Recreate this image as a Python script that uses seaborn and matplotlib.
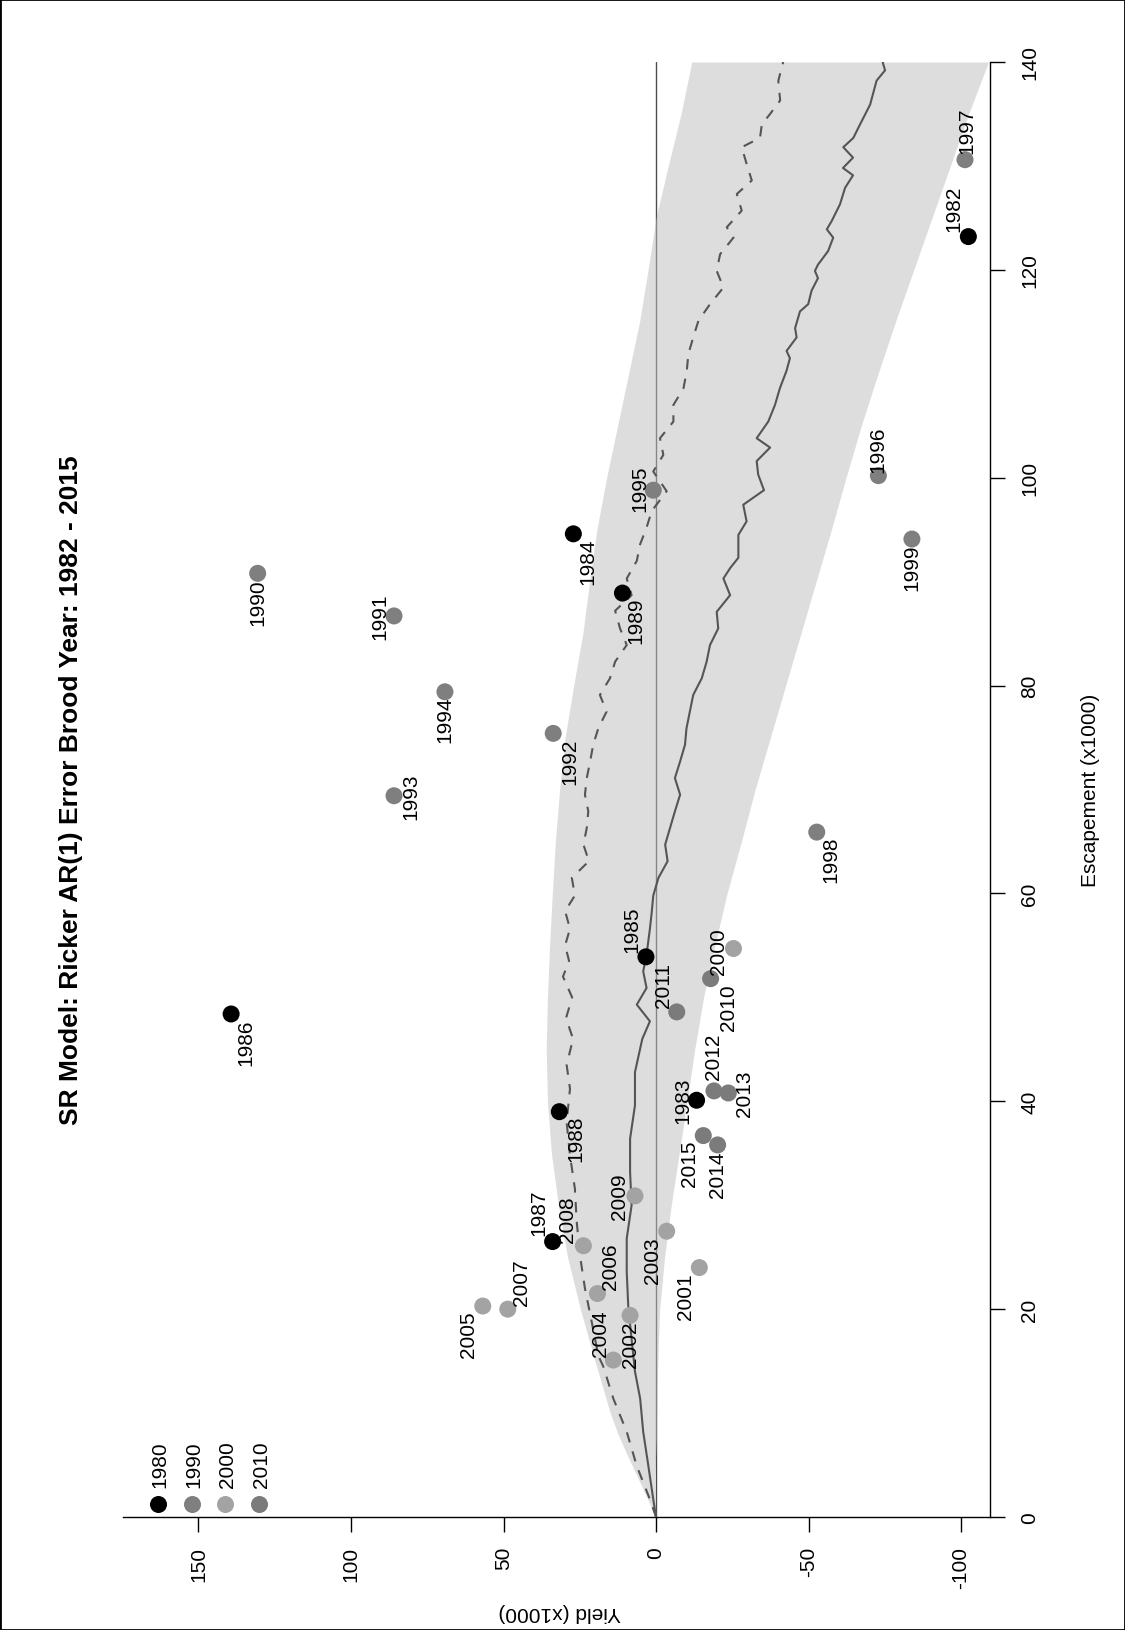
import numpy as np
import pandas as pd
import matplotlib
matplotlib.use("Agg")
import matplotlib.pyplot as plt
from matplotlib.patches import Rectangle
import seaborn as sns

# Brood year data (x1000 fish)
years = [1982, 1983, 1984, 1985, 1986, 1987, 1988, 1989,
         1990, 1991, 1992, 1993, 1994, 1995, 1996, 1997, 1998, 1999,
         2000, 2001, 2002, 2003, 2004, 2005, 2006, 2007, 2008, 2009,
         2010, 2011, 2012, 2013, 2014, 2015]
escapement = [123.2, 40.1, 94.6, 53.9, 48.4, 26.5, 39.0, 88.9,
              90.8, 86.7, 75.4, 69.4, 79.4, 98.8, 100.2, 130.6, 65.9, 94.1,
              54.7, 24.0, 19.4, 27.5, 15.1, 20.3, 21.5, 20.0, 26.1, 30.9,
              51.8, 48.6, 41.0, 40.8, 35.8, 36.7]
yield_ = [-102.4, -13.3, 27.1, 3.3, 139.3, 33.9, 31.7, 11.0,
          130.6, 85.9, 33.7, 85.9, 69.2, 0.9, -72.9, -101.3, -52.7, -83.9,
          -25.4, -14.2, 8.5, -3.5, 14.0, 56.8, 19.2, 48.6, 23.8, 6.9,
          -17.9, -6.8, -19.0, -23.7, -20.2, -15.5]

decades = ["1980", "1990", "2000", "2010"]
decade_colors = ["#000000", "#7f7f7f", "#a3a3a3", "#7b7b7b"]

# Median yield curve (solid)
solid_esc = [0, 1.7, 4.9, 8.2, 11.4, 14.0, 17.1, 20.3, 23.6, 26.8, 30.0, 33.2, 36.4, 39.6, 42.8,
             46.0, 47.7, 49.3, 50.9, 52.5, 54.1, 56.6, 58.2, 59.8, 61.5, 63.1, 64.7, 66.3, 67.9,
             69.5, 71.1, 72.7, 74.3, 75.9, 77.5, 79.1, 80.7, 82.3, 83.9, 85.5, 87.1, 88.7, 90.3,
             91.3, 92.3, 94.5, 95.8, 97.4, 98.8, 100.3, 101.6, 102.9, 103.8, 105.4, 107.0, 108.6,
             110.3, 111.5, 112.2, 113.5, 114.4, 116.0, 116.7, 118.0, 119.2, 119.9, 120.5, 121.8,
             123.1, 123.9, 124.7, 126.3, 127.9, 129.1, 129.8, 130.8, 131.8, 132.7, 134.0, 135.9,
             138.2, 139.2, 140.0]
solid_yield = [0, 0.9, 2.5, 4.2, 5.2, 6.9, 8.0, 9.1, 9.6, 9.6, 8.0, 8.5, 8.5, 6.9, 6.9,
               4.5, 2.0, 6.3, 3.1, 4.2, 3.1, 2.0, 1.4, 0.9, -0.8, -3.8, -3.0, -4.6, -6.2,
               -7.9, -6.2, -7.9, -9.5, -10.0, -11.1, -12.2, -15.0, -16.6, -17.7, -20.4, -19.9, -24.3, -22.1,
               -24.3, -27.0, -27.0, -29.7, -28.6, -35.4, -33.5, -33.0, -37.4, -33.0, -36.8, -39.0, -40.6,
               -42.8, -43.9, -42.8, -46.1, -45.6, -47.2, -49.9, -51.0, -53.1, -52.1, -53.1, -56.4,
               -58.1, -56.0, -57.6, -60.3, -62.0, -64.6, -61.3, -64.6, -61.4, -64.7, -66.9, -70.2,
               -72.3, -75.1, -74.3]

# Mean yield curve (dashed)
dashed_esc = [0, 1.7, 4.9, 8.2, 11.4, 14.5, 15.5, 18.8, 22.0, 25.1, 28.4, 31.6, 34.8, 38.0, 41.2,
              43.5, 46.0, 48.0, 50.0, 52.0, 53.5, 55.0, 56.6, 58.3, 59.8, 61.5, 63.1, 64.7, 66.3,
              67.9, 69.5, 71.1, 72.7, 74.3, 75.9, 77.5, 79.1, 80.7, 82.3, 83.9, 85.5, 87.2, 88.7,
              90.3, 92.0, 93.6, 95.2, 96.8, 98.7, 100.6, 102.2, 103.8, 105.4, 107.0, 108.6, 110.3,
              111.9, 113.5, 115.1, 116.7, 118.3, 119.9, 121.5, 123.1, 124.1, 125.7, 127.3, 128.6,
              130.2, 131.8, 132.7, 134.0, 135.0, 136.3, 138.2, 140.0]
dashed_yield = [0, 2.0, 6.3, 9.6, 14.0, 17.3, 18.9, 21.1, 23.3, 24.9, 26.0, 26.6, 28.2, 29.3, 28.2,
                29.3, 27.2, 29.5, 27.5, 30.5, 28.5, 29.8, 28.2, 29.8, 26.6, 27.6, 22.0, 23.8, 22.7,
                22.2, 23.3, 22.7, 21.6, 20.6, 18.9, 16.2, 18.4, 15.1, 13.4, 9.6, 11.8, 13.4, 8.0,
                9.6, 6.3, 5.2, 3.1, 1.4, -3.5, 0.9, -2.4, -1.3, -5.7, -5.7, -9.0, -10.1,
                -10.6, -12.2, -13.9, -17.7, -22.1, -19.9, -21.0, -25.4, -23.2, -28.1, -26.5, -31.4,
                -29.7, -28.1, -34.1, -34.7, -37.4, -40.7, -40.1, -41.7]

# Credible band
band_esc = [0, 2, 4, 6, 8, 10, 12, 15, 20, 25, 30, 35, 40, 45, 50, 55, 60, 65, 70, 75,
            80, 85, 90, 95, 100, 105, 110, 115, 120, 125, 130, 135, 140]
band_high = [0, 3.2, 6.3, 9.5, 12.5, 15.0, 17.0, 20.0, 24.8, 29.0, 32.0, 34.3, 35.6, 36.0, 35.6,
             34.9, 34.0, 33.0, 31.6, 29.8, 27.0, 24.0, 21.8, 19.4, 16.2, 12.6, 9.0, 5.4, 2.6,
             0.0, -4.0, -8.2, -11.7]
band_low = [0, 0.4, 0.5, 0.1, -0.2, -0.3, -0.4, -0.6, -1.2, -2.8, -5.0, -7.6, -10.2, -12.7, -15.6,
            -19.3, -23.3, -28.0, -32.5, -37.5, -42.5, -47.5, -52.5, -57.5, -62.3, -67.3, -72.8,
            -78.5, -84.5, -90.5, -96.5, -102.5, -109.0]

yield_ticks = [150, 100, 50, 0, -50, -100]
esc_ticks = [0, 20, 40, 60, 80, 100, 120, 140]

# label offsets (pixels, screen x right / y down) so the labels sit where they do in the chart
label_dx = [-14, -14, 15, -14, 15, -14, 17, 13,
            0, -14, 17, 17, 0, -13, 0, 2, 14, 0,
            -15, -14, 0, -14, -13, -14, 13, 14, -16, -15,
            18, -13, 0, 16, 0, -14]
label_dy = [-29, 0, 27, -28, 28, -30, 26, 27,
            28, 0, 27, 0, 27, -2, -27, -30, 27, 28,
            2, 28, 28, 28, -27, 28, -28, -27, -27, 0,
            28, -27, -35, 0, 29, 27]

df = pd.DataFrame({"year": years, "escapement": escapement, "yield": yield_})
df["decade"] = (df["year"] // 10 * 10).astype(str)

sns.set_theme(style="white")
plt.rcParams["font.family"] = ["Liberation Sans", "DejaVu Sans"]
plt.rcParams["text.color"] = "black"
plt.rcParams["axes.labelcolor"] = "black"
plt.rcParams["xtick.color"] = "black"
plt.rcParams["ytick.color"] = "black"

W, H = 1125, 1631
fig = plt.figure(figsize=(W / 100, H / 100), dpi=100)
left, right, top, bottom = 123, 990, 63, 1518
ax = fig.add_axes([left / W, 1 - bottom / H, (right - left) / W, (bottom - top) / H])

# the chart is drawn turned a quarter: yield runs across, escapement runs up
ax.axvline(0, color="#4d4d4d", lw=1, zorder=1)
ax.fill_betweenx(band_esc, band_low, band_high, color="#bdbdbd", alpha=0.5, lw=0, zorder=2)
ax.plot(dashed_yield, dashed_esc, color="#555555", lw=1.5, ls=(0, (5, 4.5)), zorder=3)
ax.plot(solid_yield, solid_esc, color="#555555", lw=1.5, zorder=3)

sns.scatterplot(data=df, x="yield", y="escapement", hue="decade",
                palette=dict(zip(decades, decade_colors)), s=150, linewidth=0,
                legend=False, ax=ax, zorder=4)

for i, yr in enumerate(years):
    ax.annotate(str(yr), (yield_[i], escapement[i]),
                xytext=(label_dx[i] * 0.72, -label_dy[i] * 0.72), textcoords="offset points",
                rotation=90, ha="center", va="center", fontsize=15, color="black", zorder=5)

ax.set_xlim(174.75, -109.5)
ax.set_ylim(0, 140)
ax.set_xticks(yield_ticks)
ax.set_xticklabels([str(t) for t in yield_ticks])
ax.set_yticks(esc_ticks)
ax.set_yticklabels([str(t) for t in esc_ticks])
ax.yaxis.tick_right()
ax.set_xlabel("")
ax.set_ylabel("")
ax.tick_params(axis="x", direction="out", length=10.8, width=1, labelsize=15,
               labelrotation=90, pad=10, color="black", labelcolor="black", bottom=True)
ax.tick_params(axis="y", direction="out", length=10.8, width=1, labelsize=15,
               labelrotation=90, pad=11, color="black", labelcolor="black", right=True, left=False)
for lbl in ax.get_yticklabels():
    lbl.set_va("center")
for side in ["top", "left"]:
    ax.spines[side].set_visible(False)
for side in ["bottom", "right"]:
    ax.spines[side].set_color("black")
    ax.spines[side].set_linewidth(1)
ax.grid(False)
ax.set_facecolor("white")

# legend (top-left of the unturned plot)
for i, dec in enumerate(decades):
    lx = 0.0404 + i * 0.0389
    ax.scatter([lx], [0.0089], s=150, color=decade_colors[i], linewidth=0,
               transform=ax.transAxes, clip_on=False, zorder=6)
    ax.text(lx + 0.0023, 0.0364, dec, transform=ax.transAxes, rotation=90,
            ha="center", va="center", fontsize=15, color="black")

fig.text(71 / W, 1 - 790 / H, "SR Model: Ricker AR(1) Error Brood Year: 1982 - 2015",
         rotation=90, ha="center", va="center", fontsize=19, fontweight="bold", color="black")
fig.text(1091 / W, 1 - 790 / H, "Escapement (x1000)", rotation=90,
         ha="center", va="center", fontsize=15, color="black")
fig.text(560 / W, 1 - 1613 / H, "Yield (x1000)", rotation=180,
         ha="center", va="center", fontsize=15, color="black")

fig.patches.append(Rectangle((0, 0), 1, 1, transform=fig.transFigure, fill=False,
                             edgecolor="black", linewidth=2))

fig.savefig("out.png", dpi=100, facecolor="white")
